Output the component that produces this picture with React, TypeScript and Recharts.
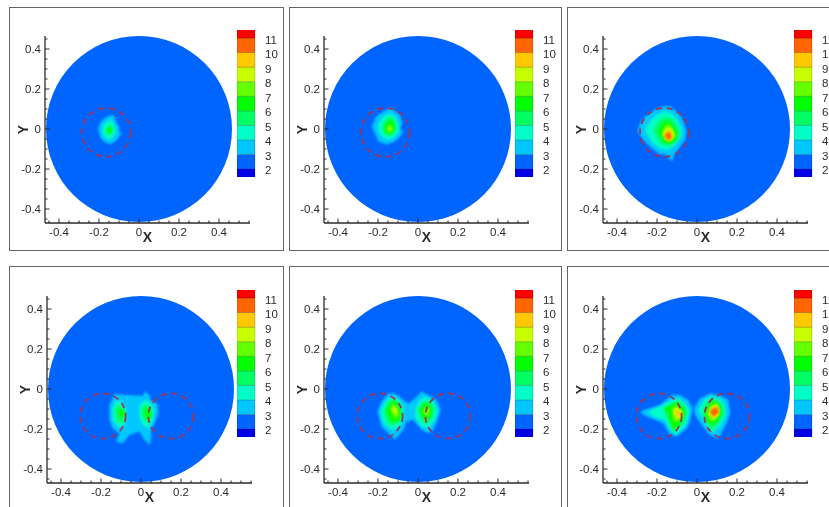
import { Bar, BarChart, Scatter, ScatterChart, XAxis, YAxis } from "recharts";

type Pt = [number, number];

// colour levels of the bar, bottom to top
const levelColors = ["#0000e6", "#0064ff", "#00c8ff", "#00ffc8", "#00ff64", "#00ff00", "#64ff00", "#c8ff00", "#ffc800", "#ff6400", "#ff0000"];
const levelSizes = [0.55, 1, 1, 1, 1, 1, 1, 1, 1, 1, 0.55];
const barTicks = [2, 3, 4, 5, 6, 7, 8, 9, 10, 11];
const xTicks = [-0.45, -0.4, -0.35, -0.3, -0.25, -0.2, -0.15, -0.1, -0.05, 0, 0.05, 0.1, 0.15, 0.2, 0.25, 0.3, 0.35, 0.4, 0.45, 0.5, 0.55];
const yTicks = [-0.45, -0.4, -0.35, -0.3, -0.25, -0.2, -0.15, -0.1, -0.05, 0, 0.05, 0.1, 0.15, 0.2, 0.25, 0.3, 0.35, 0.4, 0.45];
const majorTicks = [-0.4, -0.2, 0, 0.2, 0.4];

const diskCenter: Pt[] = [[0, 0]];
const oneRing: Pt[] = [[-0.163, -0.017]];
const twoRings: Pt[] = [[-0.19, -0.135], [0.15, -0.135]];

// panel 1
const a3: Pt[] = [[-0.165, 0.057], [-0.145, 0.07], [-0.12, 0.062], [-0.115, 0.037], [-0.1, 0.012], [-0.098, -0.017], [-0.082, -0.022], [-0.098, -0.033], [-0.108, -0.052], [-0.12, -0.063], [-0.145, -0.077], [-0.178, -0.063], [-0.195, -0.038], [-0.205, 0.003], [-0.195, 0.028], [-0.182, 0.045]];
const a4: Pt[] = [[-0.158, 0.037], [-0.137, 0.045], [-0.123, 0.02], [-0.115, -0.01], [-0.128, -0.038], [-0.145, -0.055], [-0.17, -0.043], [-0.183, -0.013], [-0.178, 0.017]];
const a5: Pt[] = [[-0.153, 0.02], [-0.137, 0.023], [-0.128, -0.005], [-0.137, -0.03], [-0.153, -0.033], [-0.17, -0.01]];
const a6: Pt[] = [[-0.157, 0.003], [-0.145, 0.008], [-0.133, -0.005], [-0.145, -0.018], [-0.16, -0.013]];

// panel 2
const b3: Pt[] = [[-0.223, 0.028], [-0.21, 0.062], [-0.182, 0.083], [-0.148, 0.1], [-0.127, 0.107], [-0.115, 0.087], [-0.09, 0.07], [-0.078, 0.028], [-0.09, 0.003], [-0.073, -0.013], [-0.09, -0.038], [-0.115, -0.063], [-0.157, -0.077], [-0.198, -0.063], [-0.215, -0.022], [-0.232, 0.012]];
const b4: Pt[] = [[-0.198, 0.028], [-0.173, 0.062], [-0.14, 0.078], [-0.115, 0.062], [-0.098, 0.028], [-0.093, -0.005], [-0.115, -0.038], [-0.148, -0.055], [-0.182, -0.038], [-0.198, -0.005]];
const b5: Pt[] = [[-0.177, 0.023], [-0.157, 0.053], [-0.132, 0.062], [-0.115, 0.037], [-0.107, 0.003], [-0.12, -0.027], [-0.148, -0.038], [-0.173, -0.017]];
const b6: Pt[] = [[-0.165, 0.017], [-0.148, 0.04], [-0.127, 0.045], [-0.118, 0.012], [-0.123, -0.013], [-0.148, -0.027], [-0.165, -0.01]];
const b7: Pt[] = [[-0.157, 0.007], [-0.14, 0.023], [-0.127, 0.012], [-0.127, -0.01], [-0.143, -0.017], [-0.157, -0.007]];
const b8: Pt[] = [[-0.145, 0.008], [-0.133, 0.008], [-0.132, -0.005], [-0.143, -0.007]];

// panel 3
const c3: Pt[] = [[-0.297, -0.013], [-0.285, 0.028], [-0.26, 0.062], [-0.218, 0.092], [-0.177, 0.112], [-0.135, 0.115], [-0.11, 0.095], [-0.085, 0.07], [-0.068, 0.037], [-0.052, -0.013], [-0.06, -0.055], [-0.085, -0.088], [-0.11, -0.122], [-0.127, -0.163], [-0.152, -0.13], [-0.193, -0.122], [-0.235, -0.088], [-0.268, -0.055]];
const c4: Pt[] = [[-0.26, -0.005], [-0.235, 0.037], [-0.202, 0.07], [-0.16, 0.087], [-0.127, 0.078], [-0.102, 0.053], [-0.077, 0.003], [-0.077, -0.038], [-0.11, -0.08], [-0.143, -0.105], [-0.185, -0.097], [-0.218, -0.072], [-0.243, -0.038]];
const c5: Pt[] = [[-0.218, -0.005], [-0.193, 0.037], [-0.16, 0.062], [-0.127, 0.053], [-0.102, 0.02], [-0.085, -0.022], [-0.102, -0.063], [-0.143, -0.088], [-0.185, -0.072]];
const c6: Pt[] = [[-0.193, -0.013], [-0.177, 0.02], [-0.152, 0.042], [-0.127, 0.028], [-0.102, -0.013], [-0.102, -0.047], [-0.135, -0.075], [-0.168, -0.063]];
const c7: Pt[] = [[-0.177, -0.022], [-0.163, 0.012], [-0.143, 0.028], [-0.122, 0.003], [-0.107, -0.03], [-0.127, -0.063], [-0.152, -0.063]];
const c8: Pt[] = [[-0.172, -0.025], [-0.157, 0.003], [-0.138, 0.012], [-0.118, -0.013], [-0.113, -0.038], [-0.135, -0.055], [-0.157, -0.052]];
const c9: Pt[] = [[-0.163, -0.03], [-0.152, -0.008], [-0.135, -0.005], [-0.118, -0.038], [-0.14, -0.063], [-0.157, -0.047]];
const c10: Pt[] = [[-0.16, -0.03], [-0.148, -0.017], [-0.135, -0.018], [-0.127, -0.042], [-0.143, -0.055], [-0.157, -0.043]];

// panel 4
const d3: Pt[] = [[-0.158, -0.08], [-0.142, -0.047], [-0.133, -0.025], [-0.075, -0.03], [0.008, -0.035], [0.02, -0.013], [0.037, -0.025], [0.05, -0.055], [0.083, -0.075], [0.087, -0.122], [0.067, -0.172], [0.05, -0.205], [0.05, -0.255], [0.042, -0.28], [0.013, -0.247], [-0.008, -0.213], [-0.058, -0.23], [-0.092, -0.272], [-0.125, -0.263], [-0.108, -0.222], [-0.142, -0.197], [-0.158, -0.155]];
const d4l: Pt[] = [[-0.142, -0.097], [-0.125, -0.058], [-0.1, -0.063], [-0.075, -0.097], [-0.075, -0.147], [-0.087, -0.188], [-0.117, -0.188], [-0.142, -0.155]];
const d4r: Pt[] = [[-0.008, -0.08], [0.025, -0.055], [0.05, -0.072], [0.067, -0.105], [0.058, -0.163], [0.037, -0.197], [0.008, -0.18], [-0.008, -0.138]];
const d5l: Pt[] = [[-0.13, -0.105], [-0.117, -0.08], [-0.092, -0.097], [-0.075, -0.122], [-0.083, -0.163], [-0.108, -0.172], [-0.125, -0.147]];
const d5r: Pt[] = [[0.003, -0.097], [0.03, -0.075], [0.05, -0.097], [0.055, -0.138], [0.042, -0.172], [0.017, -0.155], [0, -0.13]];
const d6l: Pt[] = [[-0.113, -0.105], [-0.1, -0.097], [-0.083, -0.118], [-0.092, -0.142], [-0.108, -0.13]];
const d6r: Pt[] = [[0.025, -0.097], [0.047, -0.097], [0.05, -0.13], [0.037, -0.158], [0.02, -0.13]];

// panel 5
const e3: Pt[] = [[-0.203, -0.113], [-0.182, -0.063], [-0.148, -0.022], [-0.115, -0.022], [-0.082, -0.047], [-0.048, -0.072], [-0.023, -0.055], [0.018, -0.013], [0.06, -0.035], [0.093, -0.055], [0.113, -0.105], [0.097, -0.155], [0.077, -0.205], [0.052, -0.222], [0.018, -0.205], [-0.023, -0.155], [-0.057, -0.163], [-0.073, -0.205], [-0.115, -0.252], [-0.148, -0.222], [-0.182, -0.188], [-0.193, -0.147]];
const e4l: Pt[] = [[-0.187, -0.113], [-0.165, -0.063], [-0.132, -0.038], [-0.098, -0.047], [-0.073, -0.088], [-0.073, -0.138], [-0.09, -0.188], [-0.132, -0.205], [-0.165, -0.18], [-0.182, -0.147]];
const e4r: Pt[] = [[-0.015, -0.097], [0.01, -0.055], [0.04, -0.038], [0.077, -0.063], [0.097, -0.105], [0.085, -0.155], [0.052, -0.197], [0.018, -0.188], [-0.01, -0.147]];
const e5l: Pt[] = [[-0.173, -0.113], [-0.148, -0.063], [-0.115, -0.047], [-0.09, -0.08], [-0.077, -0.122], [-0.09, -0.163], [-0.123, -0.188], [-0.157, -0.163]];
const e5r: Pt[] = [[-0.002, -0.105], [0.018, -0.072], [0.052, -0.055], [0.08, -0.088], [0.077, -0.138], [0.052, -0.172], [0.018, -0.163]];
const e6l: Pt[] = [[-0.157, -0.113], [-0.14, -0.075], [-0.115, -0.058], [-0.093, -0.097], [-0.082, -0.13], [-0.098, -0.163], [-0.132, -0.163]];
const e6r: Pt[] = [[0.01, -0.105], [0.03, -0.075], [0.057, -0.072], [0.068, -0.113], [0.057, -0.147], [0.027, -0.147]];
const e7l: Pt[] = [[-0.14, -0.097], [-0.123, -0.072], [-0.103, -0.097], [-0.09, -0.13], [-0.115, -0.152]];
const e7r: Pt[] = [[0.023, -0.113], [0.04, -0.088], [0.06, -0.097], [0.057, -0.13], [0.035, -0.138]];
const e8l: Pt[] = [[-0.127, -0.092], [-0.115, -0.085], [-0.102, -0.113], [-0.115, -0.127], [-0.128, -0.11]];

// panel 6
const f3l: Pt[] = [[-0.282, -0.113], [-0.243, -0.097], [-0.185, -0.08], [-0.127, -0.03], [-0.085, -0.03], [-0.043, -0.058], [-0.022, -0.097], [-0.035, -0.163], [-0.052, -0.197], [-0.102, -0.238], [-0.135, -0.23], [-0.168, -0.172], [-0.227, -0.147], [-0.268, -0.13]];
const f3r: Pt[] = [[-0.015, -0.097], [0.015, -0.047], [0.065, -0.022], [0.115, -0.03], [0.157, -0.055], [0.165, -0.122], [0.148, -0.172], [0.107, -0.247], [0.065, -0.23], [0.023, -0.18], [-0.01, -0.13]];
const f4l: Pt[] = [[-0.243, -0.113], [-0.185, -0.088], [-0.127, -0.055], [-0.085, -0.047], [-0.052, -0.08], [-0.035, -0.113], [-0.052, -0.172], [-0.102, -0.23], [-0.135, -0.205], [-0.16, -0.155], [-0.218, -0.138]];
const f4r: Pt[] = [[0.007, -0.105], [0.035, -0.055], [0.073, -0.035], [0.115, -0.047], [0.14, -0.08], [0.145, -0.13], [0.115, -0.188], [0.073, -0.222], [0.04, -0.163]];
const f5l: Pt[] = [[-0.16, -0.097], [-0.127, -0.072], [-0.093, -0.055], [-0.06, -0.088], [-0.052, -0.122], [-0.068, -0.172], [-0.11, -0.213], [-0.135, -0.172], [-0.16, -0.13]];
const f5r: Pt[] = [[0.028, -0.113], [0.048, -0.063], [0.082, -0.047], [0.123, -0.072], [0.135, -0.122], [0.107, -0.172], [0.073, -0.205], [0.04, -0.163]];
const f6l: Pt[] = [[-0.168, -0.097], [-0.127, -0.08], [-0.102, -0.072], [-0.068, -0.097], [-0.06, -0.13], [-0.085, -0.172], [-0.118, -0.205], [-0.135, -0.163], [-0.143, -0.122]];
const f6r: Pt[] = [[0.04, -0.113], [0.062, -0.072], [0.09, -0.058], [0.118, -0.088], [0.123, -0.122], [0.098, -0.163], [0.073, -0.18], [0.048, -0.155]];
const f7l: Pt[] = [[-0.127, -0.097], [-0.102, -0.08], [-0.077, -0.105], [-0.068, -0.13], [-0.093, -0.163], [-0.118, -0.163]];
const f7r: Pt[] = [[0.048, -0.122], [0.065, -0.08], [0.095, -0.068], [0.115, -0.097], [0.112, -0.13], [0.082, -0.163], [0.062, -0.155]];
const f8l: Pt[] = [[-0.118, -0.097], [-0.098, -0.092], [-0.077, -0.113], [-0.077, -0.138], [-0.102, -0.152], [-0.113, -0.13]];
const f8r: Pt[] = [[0.057, -0.122], [0.073, -0.088], [0.098, -0.075], [0.112, -0.105], [0.107, -0.13], [0.082, -0.155]];
const f9l: Pt[] = [[-0.11, -0.108], [-0.093, -0.102], [-0.077, -0.122], [-0.088, -0.142], [-0.105, -0.135]];
const f9r: Pt[] = [[0.062, -0.113], [0.078, -0.092], [0.098, -0.085], [0.11, -0.108], [0.102, -0.13], [0.082, -0.147]];
const f10r: Pt[] = [[0.065, -0.113], [0.082, -0.097], [0.102, -0.092], [0.108, -0.113], [0.095, -0.13], [0.078, -0.135]];

// contour level + outline, drawn in this order
const panel1: [number, Pt[]][] = [[3, a3], [4, a4], [5, a5], [6, a6]];
const panel2: [number, Pt[]][] = [[3, b3], [4, b4], [5, b5], [6, b6], [7, b7], [8, b8]];
const panel3: [number, Pt[]][] = [[3, c3], [4, c4], [5, c5], [6, c6], [7, c7], [8, c8], [9, c9], [10, c10]];
const panel4: [number, Pt[]][] = [[3, d3], [4, d4l], [4, d4r], [5, d5l], [5, d5r], [6, d6l], [6, d6r]];
const panel5: [number, Pt[]][] = [[3, e3], [4, e4l], [4, e4r], [5, e5l], [5, e5r], [6, e6l], [6, e6r], [7, e7l], [7, e7r], [8, e8l]];
const panel6: [number, Pt[]][] = [[3, f3l], [3, f3r], [4, f4l], [4, f4r], [5, f5l], [5, f5r], [6, f6l], [6, f6r], [7, f7l], [7, f7r], [8, f8l], [8, f8r], [9, f9l], [9, f9r], [10, f10r]];

const UNIT = 200; // px per data unit
const INK = "#2c2c2c";
const toRows = (pts: Pt[]) => pts.map(([x, y]) => ({ x, y }));

function XTick({ x, y, payload }: any) {
  const major = majorTicks.includes(payload.value);
  return (
    <g>
      <line x1={x} x2={x} y1={y} y2={y - (major ? 4.5 : 2.5)} stroke={INK} strokeWidth={1} />
      {major && (
        <text x={x} y={y + 13} textAnchor="middle" fontSize={11.5} fill={INK}>
          {payload.value}
        </text>
      )}
    </g>
  );
}

function YTick({ x, y, payload }: any) {
  const major = majorTicks.includes(payload.value);
  return (
    <g>
      <line x1={x} x2={x + (major ? 4.5 : 2.5)} y1={y} y2={y} stroke={INK} strokeWidth={1} />
      {major && (
        <text x={x - 4} y={y + 4} textAnchor="end" fontSize={11.5} fill={INK}>
          {payload.value}
        </text>
      )}
    </g>
  );
}

function BarTick({ x, y, payload }: any) {
  return (
    <text x={x + 10} y={y + 5.5} fontSize={11.5} fill={INK}>
      {payload.value}
    </text>
  );
}

function Disk({ cx, cy }: any) {
  return <circle cx={cx} cy={cy} r={0.465 * UNIT} fill={levelColors[1]} />;
}

function Ring({ cx, cy, r }: any) {
  return <circle cx={cx} cy={cy} r={r} fill="none" stroke="#a3304f" strokeWidth={1.7} strokeDasharray="6 4.6" />;
}

const noDot = () => <g />;

function Plot({ left, top, blobs, rings, ringR }: { left: number; top: number; blobs: [number, Pt[]][]; rings: Pt[]; ringR: number }) {
  return (
    <div style={{ position: "absolute", left: left - 40, top: top - 5 }}>
      <ScatterChart width={245} height={222} margin={{ top: 5, right: 0, bottom: 29, left: 39 }} style={{ overflow: "visible" }}>
        <XAxis
          type="number"
          dataKey="x"
          domain={[-0.47, 0.555]}
          ticks={xTicks}
          interval={0}
          height={1}
          tickSize={0}
          tickMargin={0}
          tickLine={false}
          axisLine={{ stroke: INK, strokeWidth: 1.3 }}
          tick={<XTick />}
          allowDataOverflow
          label={{ value: "X", position: "bottom", offset: 8, style: { fontSize: 14, fontWeight: 700, fill: INK } }}
        />
        <YAxis
          type="number"
          dataKey="y"
          domain={[-0.47, 0.465]}
          ticks={yTicks}
          interval={0}
          width={1}
          tickSize={0}
          tickMargin={0}
          tickLine={false}
          axisLine={{ stroke: INK, strokeWidth: 1.3 }}
          tick={<YTick />}
          allowDataOverflow
          label={{ value: "Y", angle: -90, position: "left", offset: 21, style: { fontSize: 14, fontWeight: 700, fill: INK, textAnchor: "middle" } }}
        />
        <Scatter data={toRows(diskCenter)} shape={<Disk />} isAnimationActive={false} />
        {blobs.map(([level, pts], i) => (
          <Scatter
            key={i}
            data={toRows(pts)}
            shape={noDot}
            line={{ fill: levelColors[level - 1], stroke: "none", style: { filter: "blur(0.8px)" } }}
            lineJointType="linearClosed"
            isAnimationActive={false}
          />
        ))}
        <Scatter data={toRows(rings)} shape={<Ring r={ringR * UNIT} />} isAnimationActive={false} />
      </ScatterChart>
    </div>
  );
}

const barRow = [Object.fromEntries(levelSizes.map((v, i) => [`l${i}`, v]).concat([["base", 1.45], ["name", "level"]]))];

function ColorBar({ left, top }: { left: number; top: number }) {
  return (
    <div style={{ position: "absolute", left, top }}>
      <BarChart width={48} height={147} data={barRow} margin={{ top: 0, right: 0, bottom: 0, left: 0 }} barCategoryGap={0}>
        <XAxis dataKey="name" hide />
        <YAxis
          orientation="right"
          width={30}
          domain={[1.45, 11.55]}
          ticks={barTicks}
          interval={0}
          allowDataOverflow
          axisLine={false}
          tickLine={false}
          tickSize={0}
          tickMargin={0}
          tick={<BarTick />}
        />
        <Bar dataKey="base" stackId="s" fill="none" isAnimationActive={false} />
        {levelColors.map((c, i) => (
          <Bar key={c} dataKey={`l${i}`} stackId="s" fill={c} stroke="#000" strokeOpacity={0.22} strokeWidth={0.8} isAnimationActive={false} />
        ))}
      </BarChart>
    </div>
  );
}

function Panel({ frame, axisLeft, axisTop, barLeft, blobs, rings, ringR }: any) {
  return (
    <>
      <div
        style={{
          position: "absolute",
          left: frame[0],
          top: frame[1],
          width: frame[2],
          height: frame[3],
          boxSizing: "border-box",
          border: "1.5px solid #666",
        }}
      />
      <Plot left={axisLeft} top={axisTop} blobs={blobs} rings={rings} ringR={ringR} />
      <ColorBar left={barLeft} top={axisTop - 6.5} />
    </>
  );
}

export default function App() {
  return (
    <div
      style={{
        position: "absolute",
        left: 0,
        top: 0,
        width: 829,
        height: 507,
        overflow: "hidden",
        background: "#fff",
        fontFamily: "'Liberation Sans', Arial, sans-serif",
        filter: "blur(0.55px)",
      }}
    >
      <Panel frame={[9, 7, 275, 244]} axisLeft={45} axisTop={36} barLeft={237} blobs={panel1} rings={oneRing} ringR={0.122} />
      <Panel frame={[289, 7, 273, 244]} axisLeft={324} axisTop={36} barLeft={515} blobs={panel2} rings={oneRing} ringR={0.122} />
      <Panel frame={[567, 7, 300, 244]} axisLeft={603} axisTop={36} barLeft={794} blobs={panel3} rings={oneRing} ringR={0.122} />
      <Panel frame={[9, 266, 275, 260]} axisLeft={46.5} axisTop={296} barLeft={237} blobs={panel4} rings={twoRings} ringR={0.113} />
      <Panel frame={[289, 266, 273, 260]} axisLeft={324} axisTop={296} barLeft={515} blobs={panel5} rings={twoRings} ringR={0.113} />
      <Panel frame={[567, 266, 300, 260]} axisLeft={603} axisTop={296} barLeft={794} blobs={panel6} rings={twoRings} ringR={0.113} />
    </div>
  );
}
